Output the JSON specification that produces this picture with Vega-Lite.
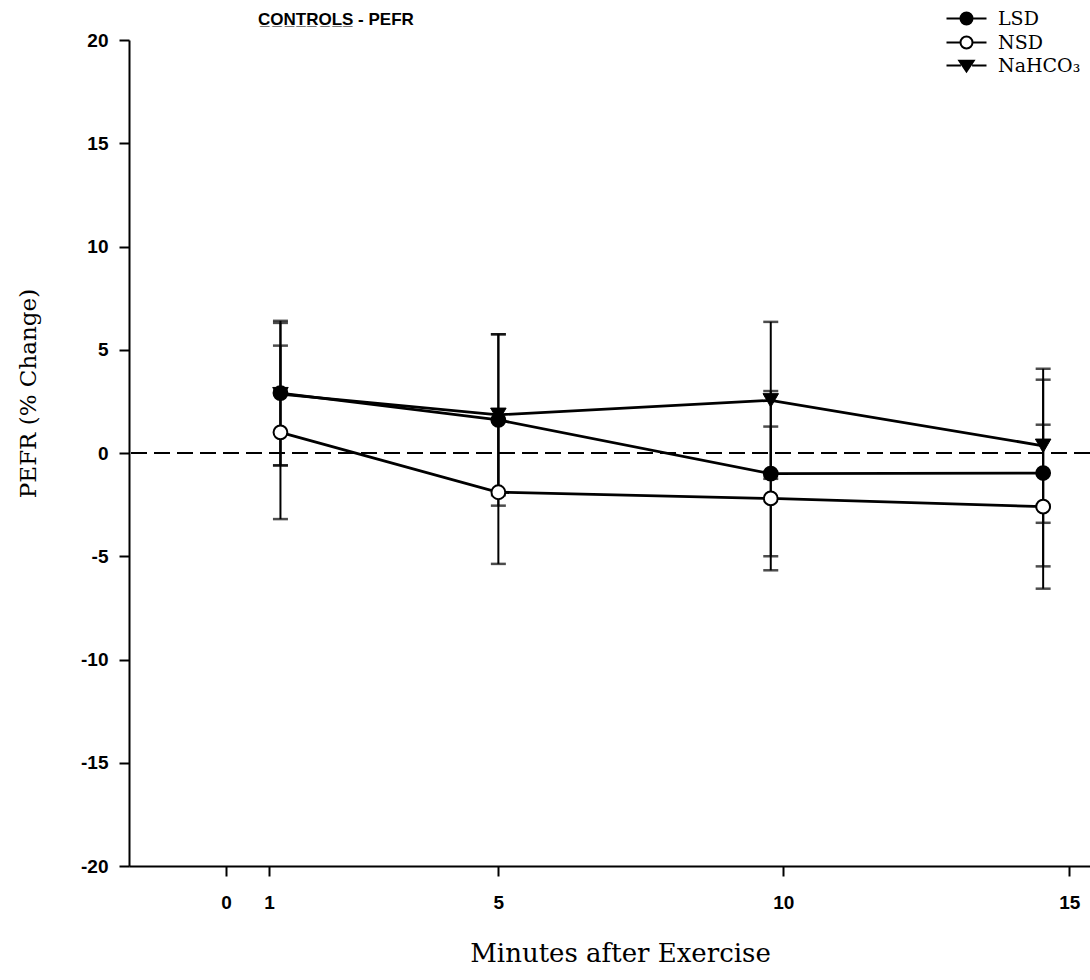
{
  "$schema": "https://vega.github.io/schema/vega-lite/v6.json",
  "width": 961,
  "height": 826,
  "autosize": {"type": "none"},
  "padding": {"left": 129, "top": 40, "right": 0, "bottom": 114},
  "background": "white",
  "title": {
    "text": "C̲O̲N̲T̲R̲O̲L̲S̲ - PEFR",
    "anchor": "start",
    "frame": "group",
    "dx": 129,
    "offset": -20,
    "font": "Liberation Sans",
    "fontSize": 17,
    "fontWeight": "bold",
    "color": "black"
  },
  "config": {
    "view": {"stroke": null},
    "axis": {
      "grid": false,
      "domainColor": "black",
      "domainWidth": 2,
      "tickColor": "black",
      "tickWidth": 2,
      "tickSize": 10,
      "labelColor": "black",
      "labelFont": "Liberation Sans",
      "labelFontWeight": "bold",
      "labelFontSize": 19,
      "titleColor": "black",
      "titleFont": "DejaVu Serif",
      "titleFontWeight": "normal"
    },
    "legend": {
      "title": null,
      "orient": "none",
      "legendX": 828,
      "legendY": -31,
      "padding": 0,
      "symbolSize": 256,
      "symbolStrokeWidth": 2,
      "symbolOpacity": 1,
      "labelFont": "DejaVu Serif",
      "labelFontSize": 19,
      "labelColor": "black",
      "labelOffset": 22,
      "rowPadding": 3
    }
  },
  "datasets": {
    "pefr": [
      {"minute": 1, "group": "LSD", "mean": 2.9, "err": 3.5},
      {"minute": 5, "group": "LSD", "mean": 1.6, "err": 4.15},
      {"minute": 10, "group": "LSD", "mean": -1.0, "err": 4.0},
      {"minute": 15, "group": "LSD", "mean": -0.97, "err": 4.52},
      {"minute": 1, "group": "NSD", "mean": 1.0, "err": 4.2},
      {"minute": 5, "group": "NSD", "mean": -1.9, "err": 3.47},
      {"minute": 10, "group": "NSD", "mean": -2.2, "err": 3.48},
      {"minute": 15, "group": "NSD", "mean": -2.6, "err": 3.97},
      {"minute": 1, "group": "NaHCO₃", "mean": 2.85, "err": 3.45},
      {"minute": 5, "group": "NaHCO₃", "mean": 1.85, "err": 3.9},
      {"minute": 10, "group": "NaHCO₃", "mean": 2.55, "err": 3.8},
      {"minute": 15, "group": "NaHCO₃", "mean": 0.35, "err": 3.73}
    ],
    "baseline": [{"ref": 0}]
  },
  "layer": [
    {
      "data": {"name": "pefr"},
      "mark": {
        "type": "errorbar",
        "color": "black",
        "rule": {"strokeWidth": 2},
        "ticks": {"size": 15, "thickness": 2.5, "color": "black"}
      },
      "encoding": {
        "x": {
          "field": "minute",
          "type": "quantitative",
          "title": "Minutes after Exercise",
          "scale": {"domain": [-1.78, 15.86], "nice": false, "zero": false},
          "axis": {
            "values": [0, 0.79, 5, 10.23, 15.48],
            "labelExpr": "datum.value < 0.5 ? '0' : datum.value < 2 ? '1' : datum.value < 7 ? '5' : datum.value < 12 ? '10' : '15'",
            "labelPadding": 17,
            "titleFontSize": 26,
            "titleX": 491,
            "titleY": 87,
            "titleAlign": "center",
            "titleBaseline": "middle"
          }
        },
        "y": {
          "field": "mean",
          "type": "quantitative",
          "title": "PEFR (% Change)",
          "scale": {"domain": [-20, 20], "nice": false},
          "axis": {
            "values": [-20, -15, -10, -5, 0, 5, 10, 15, 20],
            "labelExpr": "datum.value < 0 ? '-' + abs(datum.value) : '' + datum.value",
            "labelPadding": 11,
            "titleFontSize": 23,
            "titleAngle": -90,
            "titleX": -101,
            "titleY": 353,
            "titleAlign": "center",
            "titleBaseline": "middle"
          }
        },
        "yError": {"field": "err"},
        "detail": {"field": "group", "type": "nominal"}
      }
    },
    {
      "data": {"name": "baseline"},
      "mark": {"type": "rule", "color": "black", "strokeWidth": 2.2, "strokeDash": [16, 7]},
      "encoding": {
        "y": {"field": "ref", "type": "quantitative", "title": "PEFR (% Change)"}
      }
    },
    {
      "data": {"name": "pefr"},
      "mark": {"type": "line", "color": "black", "strokeWidth": 2.8},
      "encoding": {
        "x": {"field": "minute", "type": "quantitative", "title": "Minutes after Exercise"},
        "y": {"field": "mean", "type": "quantitative", "title": "PEFR (% Change)"},
        "detail": {"field": "group", "type": "nominal"}
      }
    },
    {
      "data": {"name": "pefr"},
      "transform": [{"filter": "datum.group !== 'NaHCO₃'"}],
      "mark": {"type": "point", "shape": "circle", "filled": true, "stroke": "black", "strokeWidth": 2, "size": 190, "opacity": 1},
      "encoding": {
        "x": {"field": "minute", "type": "quantitative", "title": "Minutes after Exercise"},
        "y": {"field": "mean", "type": "quantitative", "title": "PEFR (% Change)"},
        "fill": {"condition": {"test": "datum.group === 'NSD'", "value": "white"}, "value": "black"}
      }
    },
    {
      "data": {"name": "pefr"},
      "transform": [{"filter": "datum.group === 'NaHCO₃'"}],
      "mark": {"type": "point", "shape": "triangle-down", "filled": true, "fill": "black", "stroke": "black", "strokeWidth": 1, "size": 240, "opacity": 1},
      "encoding": {
        "x": {"field": "minute", "type": "quantitative", "title": "Minutes after Exercise"},
        "y": {"field": "mean", "type": "quantitative", "title": "PEFR (% Change)"}
      }
    },
    {
      "data": {"name": "pefr"},
      "mark": {"type": "point", "filled": true, "stroke": "black", "strokeWidth": 2, "size": 0, "opacity": 1},
      "encoding": {
        "x": {"field": "minute", "type": "quantitative", "title": "Minutes after Exercise"},
        "y": {"field": "mean", "type": "quantitative", "title": "PEFR (% Change)"},
        "shape": {
          "field": "group",
          "type": "nominal",
          "scale": {
            "domain": ["LSD", "NSD", "NaHCO₃"],
            "range": [
              "M-2.5,0H-0.75M0.75,0H2.5M-0.75,0A0.75,0.75 0 1,1 0.75,0A0.75,0.75 0 1,1 -0.75,0Z",
              "M-2.5,0H-0.75M0.75,0H2.5M-0.75,0A0.75,0.75 0 1,1 0.75,0A0.75,0.75 0 1,1 -0.75,0Z",
              "M-2.5,0H-0.7M0.7,0H2.5M-0.9,-0.6H0.9L0,0.75Z"
            ]
          }
        },
        "fill": {
          "field": "group",
          "type": "nominal",
          "scale": {"domain": ["LSD", "NSD", "NaHCO₃"], "range": ["black", "white", "black"]}
        }
      }
    }
  ]
}
